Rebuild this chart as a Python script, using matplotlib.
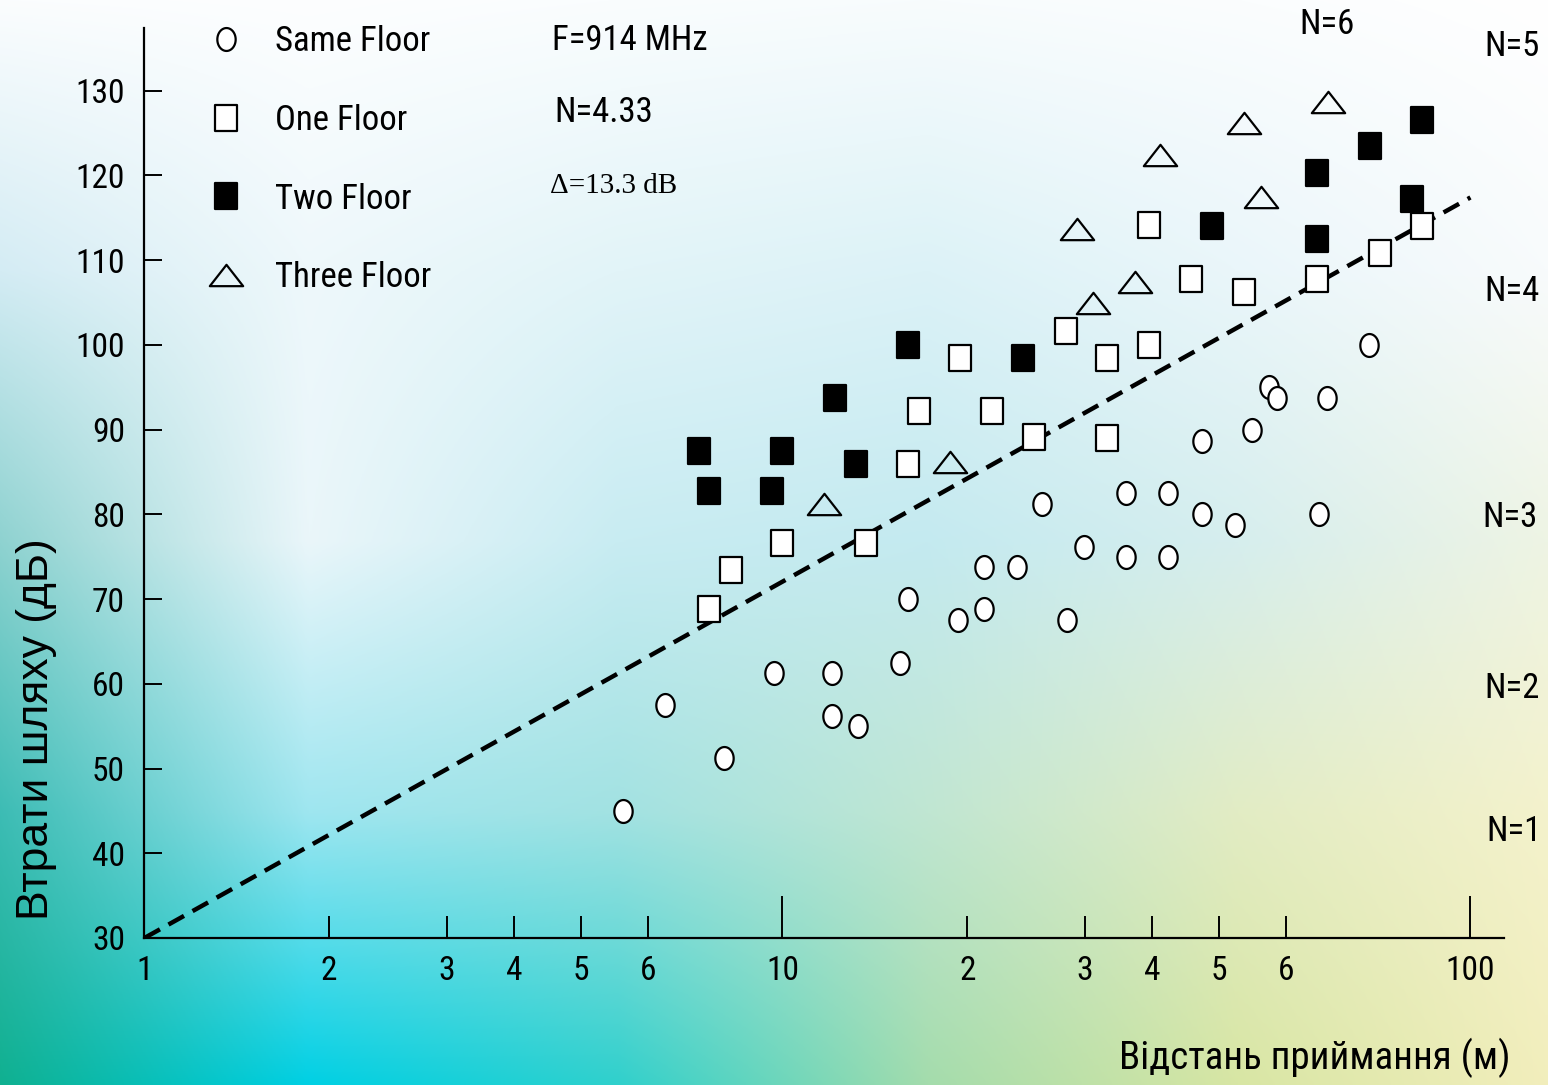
import numpy as np
import matplotlib
matplotlib.use("Agg")
import matplotlib.pyplot as plt
from matplotlib.path import Path
from matplotlib.markers import MarkerStyle

# distance (m) / path loss (dB)
same_d = [5.61, 6.40, 8.01, 9.68, 12.06, 12.06, 13.27, 15.53, 16.0, 19.34,
          21.17, 21.17, 23.73, 25.91, 28.24, 29.91, 35.78, 35.78, 42.19, 42.19,
          47.25, 47.25, 52.23, 54.70, 57.29, 58.55, 65.74, 67.30, 75.6]
same_pl = [45.0, 57.5, 51.2, 61.3, 61.3, 56.2, 55.0, 62.5, 70.0, 67.5,
           73.8, 68.8, 73.8, 81.2, 67.5, 76.2, 82.5, 75.0, 82.5, 75.0,
           88.7, 80.0, 78.7, 89.9, 95.0, 93.7, 80.0, 93.7, 100.0]

one_d = [7.56, 8.21, 10.0, 13.67, 16.0, 16.65, 19.48, 21.76, 25.16, 28.09,
         32.97, 32.97, 39.49, 39.49, 45.55, 53.53, 65.37, 77.84, 87.45]
one_pl = [68.8, 73.4, 76.6, 76.6, 85.9, 92.2, 98.4, 92.2, 89.1, 101.6,
          98.4, 89.0, 114.1, 100.0, 107.8, 106.2, 107.8, 110.9, 114.0]

two_d = [7.28, 7.56, 10.0, 9.61, 12.18, 13.17, 16.03, 24.26, 48.93, 65.37,
         65.37, 75.7, 85.06, 87.45]
two_pl = [87.5, 82.8, 87.5, 82.8, 93.7, 85.9, 100.0, 98.4, 114.0, 120.3,
          112.5, 123.5, 117.2, 126.5]

three_d = [11.70, 18.77, 29.14, 31.05, 37.19, 41.09, 53.53, 56.07, 67.4]
three_pl = [81.2, 86.2, 113.7, 104.9, 107.4, 122.4, 126.2, 117.4, 128.7]

fit_d = [1, 100]
fit_pl = [30, 117.4]

major_x = [1, 10, 100]
minor_x = [2, 3, 4, 5, 6, 20, 30, 40, 50, 60]
minor_lbl = ["2", "3", "4", "5", "6", "2", "3", "4", "5", "6"]
y_ticks = [30, 40, 50, 60, 70, 80, 90, 100, 110, 120, 130]

n_labels = ["N=6", "N=5", "N=4", "N=3", "N=2", "N=1"]

narrow = ["Roboto Condensed", "Liberation Sans", "DejaVu Sans"]
plt.rcParams["font.family"] = narrow

# the printed log axis is slightly uneven; follow its tick spacing
knot_u = np.log10([1, 2, 3, 4, 5, 6, 10, 20, 30, 40, 50, 60, 100])
knot_p = np.array([0, 184.5, 302.5, 369.5, 436.5, 503.5, 638, 823, 940.5,
                   1007.5, 1074.5, 1141.5, 1326])
slope_lo = 184.5 / knot_u[1]
slope_hi = (1326 - 1141.5) / (2 - knot_u[11])


def fwd(x):
    u = np.log10(np.clip(np.asarray(x, float), 1e-12, None))
    p = np.interp(u, knot_u, knot_p)
    p = np.where(u > 2, 1326 + (u - 2) * slope_hi, p)
    return np.where(u < 0, u * slope_lo, p)


def inv(p):
    p = np.asarray(p, float)
    u = np.interp(p, knot_p, knot_u)
    u = np.where(p > 1326, 2 + (p - 1326) / slope_hi, u)
    u = np.where(p < 0, p / slope_lo, u)
    return 10 ** u


# marker shapes (ellipse, tall rectangle, flat triangle)
t = np.linspace(0, 2 * np.pi, 61)
ell = MarkerStyle(Path(np.column_stack([0.40 * np.cos(t), 0.5 * np.sin(t)]), closed=True))
rect = MarkerStyle(Path([(-0.41, -0.5), (0.41, -0.5), (0.41, 0.5), (-0.41, 0.5), (-0.41, -0.5)],
                        closed=True), joinstyle="miter")
tri = MarkerStyle(Path([(-0.5, -0.32), (0.5, -0.32), (0, 0.32), (-0.5, -0.32)], closed=True),
                  joinstyle="miter")

fig = plt.figure(figsize=(15.48, 10.85), dpi=100)

# background wash
bg_cols = [
    ["#fbfdfe", "#fdfeff", "#fafdfe", "#f8fcfd", "#fbfdfe", "#ffffff"],
    ["#d4ecf4", "#eef8fb", "#e2f4f8", "#dcf2f7", "#eaf6fa", "#f8fbfc"],
    ["#8ed2d0", "#eaf6fa", "#c8ecf2", "#c4eaf0", "#d6eeee", "#eef4e4"],
    ["#3cbcb4", "#9ee6f0", "#a2e2e2", "#c0e6d2", "#e2ecc4", "#f4f2cc"],
    ["#10b090", "#00d0e4", "#30d0cc", "#a4dcac", "#d8e6a4", "#f2eebc"],
]
grid = np.array([[matplotlib.colors.to_rgb(c) for c in row] for row in bg_cols])
bg = fig.add_axes([0, 0, 1, 1], zorder=0)
bg.imshow(grid, aspect="auto", interpolation="bilinear", extent=(-0.1, 1.1, -0.125, 1.125))
bg.set_xlim(0, 1)
bg.set_ylim(0, 1)
bg.axis("off")

ax = fig.add_axes([0.0933, 0.1355, 0.8782, 0.8387], zorder=1)
ax.patch.set_alpha(0)
ax.set_xscale("function", functions=(fwd, inv))
ax.set_xlim(1, 109.7)
ax.set_ylim(30, 137.4)

ax.plot(fit_d, fit_pl, color="black", lw=3.2, dashes=(4, 2.2), zorder=2)

mk = dict(linestyle="none", markeredgecolor="black", markeredgewidth=1.6, zorder=3)
ax.plot(same_d, same_pl, marker=ell, markersize=16.5, markerfacecolor="white", label="Same Floor", **mk)
ax.plot(one_d, one_pl, marker=rect, markersize=19, markerfacecolor="white", label="One Floor", **mk)
ax.plot(two_d, two_pl, marker=rect, markersize=19, markerfacecolor="black", label="Two Floor", **mk)
ax.plot(three_d, three_pl, marker=tri, markersize=24, markerfacecolor="none", label="Three Floor", **mk)

for s in ["top", "right"]:
    ax.spines[s].set_visible(False)
for s in ["left", "bottom"]:
    ax.spines[s].set_linewidth(1.6)

ax.set_xticks(major_x, ["1", "10", "100"])
ax.set_xticks(minor_x, minor_lbl, minor=True)
ax.tick_params(axis="x", which="major", direction="in", length=30, width=1.4, pad=12, labelsize=24)
ax.tick_params(axis="x", which="minor", direction="in", length=16, width=1.4, pad=12, labelsize=24)
ax.set_yticks(y_ticks)
ax.tick_params(axis="y", direction="in", length=13, width=1.4, pad=14, labelsize=24)

leg = ax.legend(loc="upper left", bbox_to_anchor=(0.135, 0.977), bbox_transform=fig.transFigure,
                frameon=False, fontsize=25, numpoints=1, handlelength=1.0,
                handletextpad=0.9, labelspacing=1.32, borderpad=0, borderaxespad=0)

fig.text(0.3566, 0.9631, "F=914 MHz", fontsize=25, ha="left", va="center")
fig.text(0.3579, 0.8959, "N=4.33", fontsize=25, ha="left", va="center")
fig.text(0.3553, 0.8286, "\u0394=13.3 dB", fontsize=21, ha="left", va="center",
         family=["Liberation Serif", "DejaVu Serif"])

n_pos = [(0.8572, 0.977), (0.9767, 0.9567), (0.9767, 0.7309),
         (0.9755, 0.5226), (0.9767, 0.365), (0.978, 0.2332)]
for lbl, (fx, fy) in zip(n_labels, n_pos):
    fig.text(fx, fy, lbl, fontsize=25, ha="center", va="center")

fig.text(0.9755, 0.0249, "Відстань приймання (м)", fontsize=28, ha="right", va="center")
fig.text(0.0239, 0.328, "Втрати шляху (дБ)", fontsize=32, rotation=90, ha="center", va="center",
         family=["Liberation Sans", "DejaVu Sans"])

fig.savefig("out.png", dpi=100)
